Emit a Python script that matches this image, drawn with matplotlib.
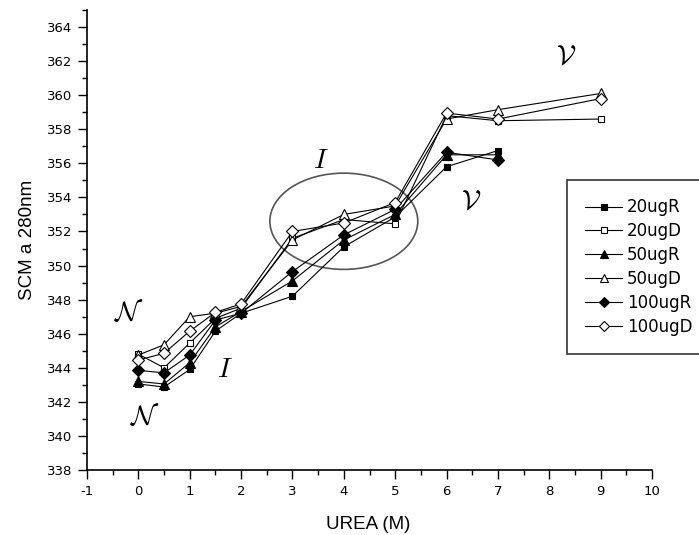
from matplotlib import pyplot as plt, ticker
from matplotlib.patches import Ellipse

plt.rcParams["axes.unicode_minus"] = False

# urea concentration (M)
UREA = [0, 0.5, 1, 1.5, 2, 3, 4, 5, 6, 7]
UREA_D = [0, 0.5, 1, 1.5, 2, 3, 4, 5, 6, 7, 9]

# spectral centre of mass at 280 nm excitation
scm_20ugR = [343.05, 342.87, 343.9, 346.15, 347.2, 348.2, 351.1, 352.85, 355.8, 356.75]
scm_20ugD = [344.8, 344.0, 345.45, 346.9, 347.5, 351.6, 352.7, 352.45, 358.8, 358.5, 358.6]
scm_50ugR = [343.2, 343.05, 344.3, 346.4, 347.3, 349.1, 351.5, 353.0, 356.5, 356.5]
scm_50ugD = [344.75, 345.35, 347.0, 347.2, 347.6, 351.5, 353.0, 353.5, 358.6, 359.15, 360.1]
scm_100ugR = [343.85, 343.7, 344.75, 346.8, 347.2, 349.65, 351.8, 353.3, 356.65, 356.2]
scm_100ugD = [344.45, 344.85, 346.15, 347.25, 347.75, 352.0, 352.5, 353.7, 358.95, 358.6, 359.8]

series = [
    ("20ugR", UREA, scm_20ugR, "s", "black", 5),
    ("20ugD", UREA_D, scm_20ugD, "s", "white", 5),
    ("50ugR", UREA, scm_50ugR, "^", "black", 6.5),
    ("50ugD", UREA_D, scm_50ugD, "^", "white", 6.5),
    ("100ugR", UREA, scm_100ugR, "D", "black", 6),
    ("100ugD", UREA_D, scm_100ugD, "D", "white", 6),
]

fig = plt.figure(figsize=(6.99, 5.35), dpi=100)
ax = fig.add_axes([87 / 699, 1 - 470 / 535, 565 / 699, 460 / 535])

for label, x, y, marker, face, size in series:
    ax.plot(x, y, color="black", lw=0.8, marker=marker, markersize=size,
            markerfacecolor=face, markeredgecolor="black", markeredgewidth=0.8,
            label=label)

# transition region
ax.add_patch(Ellipse((4.0, 352.6), 2.88, 5.65, facecolor="none",
                     edgecolor="#555555", lw=1.2))

# state labels: native, intermediate, unfolded
notes = [
    (r"$\mathcal{N}$", -0.19, 347.2),
    (r"$\mathcal{N}$", 0.12, 341.1),
    (r"$I$", 1.68, 343.9),
    (r"$I$", 3.56, 356.2),
    (r"$\mathcal{V}$", 8.33, 362.35),
    (r"$\mathcal{V}$", 6.48, 353.8),
]
for text, x, y in notes:
    ax.text(x, y, text, fontsize=20, math_fontfamily="cm",
            ha="center", va="center")

ax.set_xlim(-1, 10)
ax.set_ylim(338, 365)
ax.xaxis.set_major_locator(ticker.MultipleLocator(1))
ax.xaxis.set_minor_locator(ticker.MultipleLocator(0.5))
ax.yaxis.set_major_locator(ticker.FixedLocator(range(338, 365, 2)))
ax.yaxis.set_minor_locator(ticker.MultipleLocator(1))
ax.tick_params(which="major", direction="out", length=6.5, width=1,
               labelsize=9.5, pad=4)
ax.tick_params(which="minor", direction="out", length=3.5, width=1)
ax.spines["top"].set_visible(False)
ax.spines["right"].set_visible(False)
for side in ("left", "bottom"):
    ax.spines[side].set_linewidth(1.2)

ax.set_xlabel("UREA (M)", fontsize=13.5, family="Liberation Sans")
ax.set_ylabel("SCM a 280nm", fontsize=13.5, family="Liberation Sans")
ax.xaxis.set_label_coords(0.497, -0.1)
ax.yaxis.set_label_coords(-0.09, 0.5)

leg = fig.legend(loc="upper left", bbox_to_anchor=(567 / 699, 1 - 180 / 535),
                 fontsize=12, frameon=True, fancybox=False, handlelength=2.2,
                 handletextpad=0.3, borderpad=1.1, labelspacing=0.35,
                 borderaxespad=0, markerscale=0.8)
leg.get_frame().set_edgecolor("black")
leg.get_frame().set_linewidth(1.2)

fig.savefig("out.png", dpi=100)
plt.close(fig)
